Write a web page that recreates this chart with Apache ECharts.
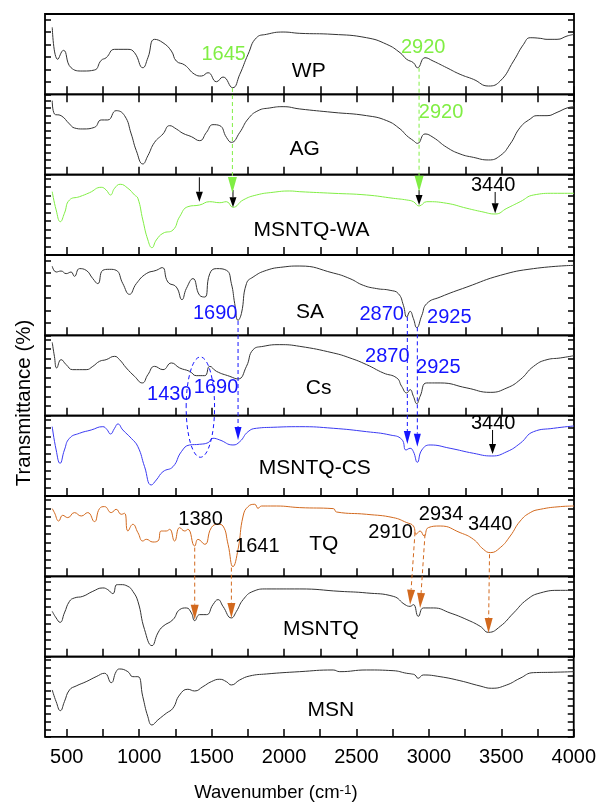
<!DOCTYPE html>
<html><head><meta charset="utf-8">
<script src="https://cdn.jsdelivr.net/npm/echarts@6/dist/echarts.min.js"></script>
<style>html,body{margin:0;padding:0;background:#fff}#c{width:599px;height:808px}</style>
</head><body><div id="c"></div>
<script>
// ---- data: [wavenumber, relative transmittance within panel] ----
const WP = [[400,67],[438,35],[477,44],[530,26.6],[611,23.3],[691,24.3],[738,34],[772,36.6],[830,45],[922,45],[968,41.6],[1025,26.6],[1060,36.6],[1106,55],[1164,51.6],[1222,43.3],[1256,33.3],[1314,29.3],[1383,20],[1429,18.3],[1475,21.6],[1533,12.6],[1578,17.3],[1645,6.6],[1694,20],[1751,40],[1809,56.6],[1878,60],[1993,62.3],[2108,61],[2337,60],[2569,56.6],[2708,50],[2800,41.6],[2846,35],[2892,31.6],[2920,26.6],[2972,36.6],[3028,33.3],[3122,26.6],[3214,20],[3306,15],[3410,8.3],[3491,13.3],[3583,33.3],[3652,50],[3698,56.6],[3767,56],[3814,55],[3883,55],[3952,58.3],[4000,60]];
const AG = [[400,74],[415,60.7],[461,59],[519,50.7],[553,46.7],[611,45.7],[691,47.3],[738,54.7],[783,54.7],[841,64],[899,59],[945,40.7],[980,24],[1025,10.7],[1060,19],[1106,32.3],[1164,40.7],[1210,49],[1256,45.7],[1302,41.3],[1360,38],[1417,34],[1464,42.3],[1509,50],[1556,49],[1602,37.3],[1636,32.3],[1694,42.3],[1751,55.7],[1820,64],[1901,66.7],[1993,68],[2108,65.7],[2337,62.3],[2569,59],[2708,54],[2800,45.7],[2846,39],[2892,34],[2920,31.3],[2972,40.7],[3028,37.3],[3122,27.3],[3214,20.7],[3306,17.3],[3410,14.7],[3491,19],[3560,30.7],[3629,47.3],[3698,55.7],[3744,59],[3814,59],[3883,62.3],[3952,66.7],[4000,68]];
const MSNTQ_WA = [[400,63.3],[427,45],[456,33.3],[484,41.7],[519,55],[588,58.3],[657,62.3],[738,67.7],[772,65],[802,60],[830,66.7],[869,70.7],[922,66.7],[968,60],[991,56.7],[1025,35],[1060,15],[1088,7.3],[1118,15],[1164,21.7],[1233,25],[1279,38.3],[1336,48.3],[1417,50],[1486,53.3],[1556,52.3],[1602,53.3],[1647,47.7],[1717,55],[1809,60],[1924,62.7],[2039,64],[2108,63.3],[2337,61.7],[2569,60],[2753,56.7],[2846,55],[2892,53.3],[2931,49],[2984,53.3],[3122,51.7],[3261,46.7],[3364,43.3],[3456,41],[3537,46.7],[3629,53.3],[3721,60],[3859,61.7],[4000,61.7]];
const SA = [[400,69],[427,63.3],[461,64.3],[496,61.7],[530,63.3],[553,59],[588,66.7],[634,65],[680,56.7],[714,51.7],[749,65],[795,66],[841,65],[887,51.7],[933,41],[980,51.7],[1049,61.7],[1118,65],[1159,67.7],[1198,53.3],[1256,48.3],[1295,35.7],[1325,46.7],[1371,56.7],[1417,40],[1452,38.3],[1487,61.7],[1533,66.7],[1602,65],[1636,51.7],[1659,31.7],[1682,15],[1705,21.7],[1740,51.7],[1786,58.3],[1878,65],[1993,68.3],[2108,69.3],[2339,62.3],[2454,56.7],[2546,50],[2639,46.7],[2731,45],[2788,41.7],[2823,30],[2846,18.3],[2869,24],[2892,16.7],[2915,7.7],[2950,20],[2984,31.7],[3077,38.3],[3261,48.3],[3492,60],[3721,66.7],[4000,70]];
const CS = [[400,73.3],[415,59.3],[431,47.7],[461,56],[496,51],[541,46],[634,46],[680,49.3],[726,54.3],[772,56],[830,59.3],[864,56],[911,47.7],[968,39.3],[1021,32.7],[1060,41],[1106,49.3],[1164,46],[1222,52.7],[1279,47.7],[1348,44.3],[1394,40],[1452,40],[1487,49.3],[1533,44.3],[1625,39.3],[1682,36.7],[1740,49.3],[1786,66],[1855,69.3],[1970,71],[2108,69.3],[2339,62.7],[2454,57.7],[2569,51],[2684,42.7],[2777,37.7],[2811,29.3],[2846,22.7],[2869,26],[2892,19.3],[2915,12],[2938,19.3],[2984,32.7],[3077,32.7],[3261,27.7],[3422,23.3],[3537,27.7],[3629,36],[3721,49.3],[3814,56],[3906,57.7],[4000,60]];
const MSNTQ_CS = [[400,69.3],[427,46],[454,32.7],[484,46],[519,57.7],[588,62.7],[669,66],[749,69.3],[776,66.7],[802,62],[830,67.7],[853,72],[887,66],[945,57.7],[991,49.3],[1037,29.3],[1083,11],[1118,16],[1164,24.3],[1233,29.3],[1291,44.3],[1348,51],[1417,51.7],[1475,53.3],[1509,57.7],[1556,56],[1647,51],[1694,54.3],[1751,64.3],[1809,67.7],[1924,68.7],[2108,69.3],[2339,67.7],[2569,64.3],[2731,61],[2811,56.7],[2841,46],[2869,47.7],[2892,44.3],[2919,33.7],[2950,46],[3007,51],[3145,47.7],[3306,42.7],[3433,40],[3537,44.3],[3629,52.7],[3721,64.3],[3859,67.7],[4000,70]];
const TQ = [[400,67.7],[415,63.7],[445,55.3],[472,61],[507,58.7],[553,63.7],[600,60.3],[645,63.7],[691,54.7],[726,67.7],[761,69.7],[807,63.7],[841,67],[876,62],[899,63],[922,45.3],[956,52],[991,43.7],[1025,35.3],[1049,37],[1094,34.3],[1129,35.3],[1152,45.3],[1187,45.3],[1210,47],[1244,35.3],[1279,48.7],[1314,45.3],[1336,47],[1383,30.3],[1406,37],[1452,32],[1498,48.7],[1544,52],[1578,50.3],[1613,32],[1647,9.7],[1682,27],[1717,60.3],[1751,69.7],[1797,72],[1820,68],[1844,70.3],[1947,70.3],[2108,68.7],[2339,67.7],[2362,64.3],[2569,62],[2753,58.7],[2846,53.7],[2892,50.3],[2910,42],[2938,45.3],[2966,40.3],[2995,48.7],[3077,50.3],[3214,43.7],[3306,37],[3375,27],[3422,23.7],[3491,28.7],[3560,40.3],[3629,55.3],[3698,63.7],[3767,67],[3906,69.7],[4000,70.3]];
const MSNTQ = [[400,45.3],[427,38.7],[454,34.3],[484,43.7],[519,55.3],[553,58.7],[611,60.3],[680,65.3],[749,68.7],[783,67],[818,63],[846,72],[869,72],[922,70.3],[956,65.3],[991,55.3],[1037,27],[1088,11],[1129,23.7],[1164,30.3],[1233,37],[1279,47],[1325,48.7],[1360,43.7],[1383,36],[1417,42],[1464,42],[1509,52],[1544,57],[1578,50.3],[1636,38.7],[1671,45.3],[1717,57],[1786,65.3],[1878,67.7],[2108,67.7],[2385,65.3],[2569,63.7],[2753,60.3],[2834,52],[2869,50.3],[2892,52],[2926,40.3],[2961,48.7],[3030,48.7],[3145,43.7],[3261,37],[3353,30.3],[3410,24.3],[3491,30.3],[3583,43.7],[3675,57],[3767,63.7],[3906,66.3],[4000,66.3]];
const MSN = [[400,47],[427,35.3],[456,26.3],[484,35.3],[519,47],[565,51],[634,55.3],[703,60.3],[761,63.7],[807,54.3],[841,65.3],[864,68],[922,65.3],[956,60.3],[991,60.3],[1025,40.3],[1060,20.3],[1088,12],[1129,17],[1187,23.7],[1233,28.7],[1279,42],[1336,47.7],[1383,46],[1440,50.3],[1498,55.3],[1556,57.7],[1602,55.3],[1636,52],[1694,57],[1763,61],[1878,63],[2108,65.3],[2339,67],[2385,65.3],[2569,67],[2753,66.3],[2846,63.7],[2881,63],[2904,62],[2926,58.7],[2961,62],[3077,60.3],[3214,56.3],[3353,51],[3433,48.7],[3537,52],[3629,58.7],[3721,64.3],[3859,64.7],[4000,65.3]];

const PANEL_NAMES = ['WP','AG','MSNTQ-WA','SA','Cs','MSNTQ-CS','TQ','MSNTQ','MSN'];
const X_LABELS = [500,1000,1500,2000,2500,3000,3500,4000];
const X_TICKS = [500,750,1000,1250,1500,1750,2000,2250,2500,2750,3000,3250,3500,3750,4000];

// ---- styling ----
const GREEN = '#80ee44', BLUE = '#1414ff', BLUE_LINE = '#3a3af2', ORANGE = '#d2691e', DARK = '#333333';
const SERIES = [WP, AG, MSNTQ_WA, SA, CS, MSNTQ_CS, TQ, MSNTQ, MSN];
const LINE_COLORS = [DARK, DARK, GREEN, DARK, DARK, BLUE_LINE, ORANGE, DARK, DARK];
const Y_TICK_STEP = [12.5, 7.4, 8.5, 12.5, 9.5, 8.5, 8.5, 8.3, 7.7];
const FONT = '"Liberation Sans", Arial, sans-serif';
const TOP = 14, H = 80.33, LEFT = 45, RIGHT = 25;

const chart = echarts.init(document.getElementById('c'), null, {renderer: 'canvas'});

const grids = [], xAxes = [], yAxes = [], series = [];
SERIES.forEach((d, i) => {
  grids.push({left: LEFT, right: RIGHT, top: TOP + i * H, height: H, show: true,
    borderColor: '#000', borderWidth: 1.8, backgroundColor: 'transparent'});
  xAxes.push({type: 'value', gridIndex: i, min: 350, max: 4000, position: 'bottom',
    axisLine: {show: false}, splitLine: {show: false},
    axisTick: {show: true, inside: true, length: 8, customValues: X_TICKS, lineStyle: {color: '#000', width: 1.5}},
    axisLabel: i === 8 ? {show: true, customValues: X_LABELS, fontSize: 20, color: '#000', margin: 11, fontFamily: FONT,
                          formatter: v => String(v)}
                       : {show: false}});
});
xAxes.push({type: 'value', gridIndex: 0, min: 350, max: 4000, position: 'top',
  axisLine: {show: false}, splitLine: {show: false},
  axisTick: {show: true, inside: true, length: 8, customValues: X_TICKS, lineStyle: {color: '#000', width: 1.5}},
  axisLabel: {show: false}});
['left', 'right'].forEach(pos => {
  SERIES.forEach((d, i) => {
    yAxes.push({type: 'value', gridIndex: i, min: 0, max: H, interval: Y_TICK_STEP[i], position: pos,
      axisLine: {show: false}, splitLine: {show: false}, axisLabel: {show: false},
      axisTick: {show: true, inside: true, length: 6, lineStyle: {color: '#000', width: 1.5}}});
  });
});
SERIES.forEach((d, i) => {
  series.push({type: 'line', xAxisIndex: i, yAxisIndex: i, data: d, symbol: 'none', smooth: 0.5,
    lineStyle: {width: 1, color: LINE_COLORS[i]}, silent: true});
});

chart.setOption({animation: false, grid: grids, xAxis: xAxes, yAxis: yAxes, series: series});

// ---- annotations (data coordinates: panel, wavenumber, value) ----
const TEXTS = [
  ['1645', 0, 1583, 40, GREEN], ['2920', 0, 2959, 46.6, GREEN], ['WP', 0, 2170, 23.3, '#000'],
  ['2920', 1, 3083, 62.3, GREEN], ['AG', 1, 2142, 25.7, '#000'],
  ['3440', 2, 3442, 70, '#000'], ['MSNTQ-WA', 2, 2189, 25, '#000'],
  ['SA', 3, 2178, 23.3, '#000'], ['1690', 3, 1524, 21.7, BLUE], ['2870', 3, 2673, 21, BLUE], ['2925', 3, 3140, 18.3, BLUE],
  ['Cs', 4, 2238, 27.7, '#000'], ['1430', 4, 1208, 21, BLUE], ['1690', 4, 1530, 27.7, BLUE],
  ['2870', 4, 2712, 58.7, BLUE], ['2925', 4, 3064, 47.7, BLUE],
  ['3440', 5, 3442, 72.7, '#000'], ['MSNTQ-CS', 5, 2212, 27.7, '#000'],
  ['1380', 6, 1423, 57, '#000'], ['1641', 6, 1815, 29.7, '#000'], ['TQ', 6, 2274, 32, '#000'],
  ['2910', 6, 2734, 44.3, '#000'], ['2934', 6, 3083, 62, '#000'], ['3440', 6, 3422, 52, '#000'],
  ['MSNTQ', 7, 2254, 27, '#000'], ['MSN', 8, 2323, 27, '#000']
];
const NAME_SET = new Set(PANEL_NAMES);
// [panelFrom, wFrom, vFrom, panelTo, wTo, vTo, color, dashed, headLen, headHalfWidth]
const ARROWS = [
  [0, 1643, 6.3, 2, 1643, 62, GREEN, true, 16, 4.5],
  [0, 2931, 26.6, 2, 2931, 63.3, GREEN, true, 16, 4.5],
  [2, 1415, 77.7, 2, 1415, 53.3, '#000', false, 10, 3.5],
  [2, 1647, 65, 2, 1647, 47.7, '#000', false, 10, 3.5],
  [2, 2931, 65, 2, 2931, 50, '#000', false, 10, 3.5],
  [2, 3456, 63, 2, 3456, 41.7, '#000', false, 10, 3.5],
  [3, 1682, 14.3, 5, 1682, 56, BLUE, true, 13, 3.5],
  [3, 2850, 18.3, 5, 2850, 52, BLUE, true, 13, 3.5],
  [3, 2919, 8, 5, 2919, 49.3, BLUE, true, 13, 3.5],
  [5, 3438, 66, 5, 3438, 42, '#000', false, 10, 3.5],
  [6, 1383, 28.7, 7, 1383, 37, ORANGE, true, 15, 4],
  [6, 1636, 8.7, 7, 1636, 38.7, ORANGE, true, 15, 4],
  [6, 2903, 44, 7, 2869, 52, ORANGE, true, 15, 4],
  [6, 2972, 42, 7, 2938, 48.7, ORANGE, true, 15, 4],
  [6, 3417, 22, 7, 3410, 23.7, ORANGE, true, 15, 4]
];
// ellipse bounds: [panelTop, wLeft, vTop, panelBottom, wRight, vBottom]
const ELLIPSE = [4, 1324, 58.7, 5, 1520, 38.7];

function px(panel, w, v) { return chart.convertToPixel({xAxisIndex: panel, yAxisIndex: panel}, [w, v]); }

const g = [];
TEXTS.forEach(t => {
  const p = px(t[1], t[2], t[3]);
  const size = NAME_SET.has(t[0]) ? 21 : 20;
  g.push({type: 'text', x: p[0], y: p[1], silent: true, z: 100,
    style: {text: t[0], fill: t[4], font: size + 'px ' + FONT, textAlign: 'center', align: 'center',
            textVerticalAlign: 'middle', verticalAlign: 'middle'}});
});
ARROWS.forEach(a => {
  const s = px(a[0], a[1], a[2]), e = px(a[3], a[4], a[5]);
  const dx = e[0] - s[0], dy = e[1] - s[1], L = Math.hypot(dx, dy);
  const ux = dx / L, uy = dy / L, hl = a[8], hw = a[9];
  const bx = e[0] - ux * hl, by = e[1] - uy * hl;
  g.push({type: 'line', silent: true, z: 90,
    shape: {x1: s[0], y1: s[1], x2: bx, y2: by},
    style: {stroke: a[6], lineWidth: 1, lineDash: a[7] ? [4, 3] : null}});
  g.push({type: 'polygon', silent: true, z: 91,
    shape: {points: [[e[0], e[1]], [bx - uy * hw, by + ux * hw], [bx + uy * hw, by - ux * hw]]},
    style: {fill: a[6], stroke: null}});
});
(function () {
  const p1 = px(ELLIPSE[0], ELLIPSE[1], ELLIPSE[2]), p2 = px(ELLIPSE[3], ELLIPSE[4], ELLIPSE[5]);
  g.push({type: 'ellipse', silent: true, z: 90,
    shape: {cx: (p1[0] + p2[0]) / 2, cy: (p1[1] + p2[1]) / 2, rx: Math.abs(p2[0] - p1[0]) / 2, ry: Math.abs(p2[1] - p1[1]) / 2},
    style: {fill: 'none', stroke: BLUE, lineWidth: 1, lineDash: [4, 3]}});
})();
g.push({type: 'text', x: 24, y: 403, rotation: Math.PI / 2, silent: true,
  style: {text: 'Transmittance (%)', fill: '#000', font: '20.5px ' + FONT, textAlign: 'center', align: 'center',
          textVerticalAlign: 'middle', verticalAlign: 'middle'}});
g.push({type: 'text', x: 276, y: 793, silent: true,
  style: {text: '{a|Wavenumber (cm}{b|-1}{a|)}', fill: '#000', textAlign: 'center', align: 'center',
          textVerticalAlign: 'middle', verticalAlign: 'middle',
          rich: {a: {fontSize: 18.5, fontFamily: FONT, fill: '#000', color: '#000'},
                 b: {fontSize: 13.5, fontFamily: FONT, fill: '#000', color: '#000', verticalAlign: 'top', padding: [0, 0, 4, 0]}}}});
chart.setOption({graphic: {elements: g}});
</script></body></html>
